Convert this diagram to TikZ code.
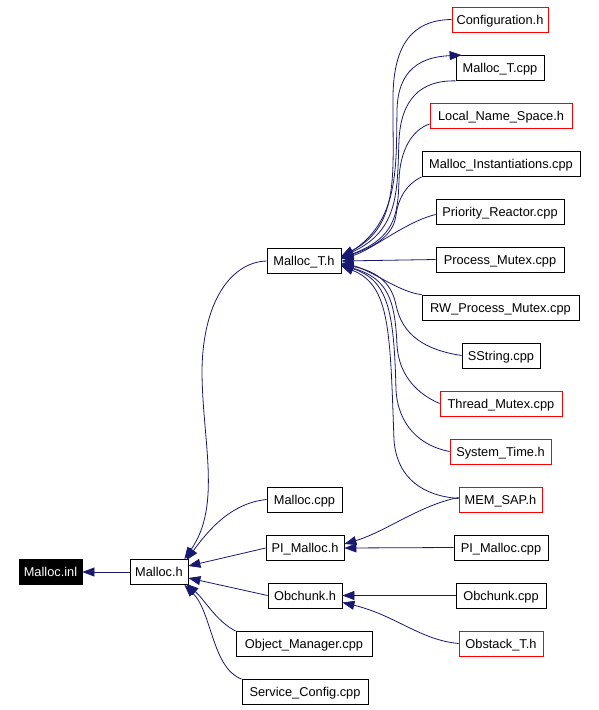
\documentclass[tikz,border=0pt]{standalone}
\usepackage{fontspec}
\setmainfont{Liberation Sans}
\usetikzlibrary{arrows.meta}
\definecolor{edgecol}{RGB}{25,25,112}
\tikzset{
  box/.style={draw=black, fill=white, line width=0.8pt, inner sep=0pt, minimum height=25pt,
    text height=9.2pt, text depth=0pt,
    font=\fontsize{12.8}{14}\selectfont, text=black},
  redbox/.style={box, draw=red},
  blackbox/.style={box, fill=black, text=white},
  edge/.style={draw=edgecol, line width=0.8pt, -{Triangle[length=12pt,width=9pt]}},
}
\begin{document}
\begin{tikzpicture}[x=1pt,y=-1pt]
\useasboundingbox (0,0) rectangle (598,710);
% left nodes
\node[blackbox, minimum width=63pt] (inl) at (50.5,572) {Malloc.inl};
\node[box, minimum width=58pt] (mh) at (159,572) {Malloc.h};
\node[box, minimum width=74pt] (mth) at (304,261) {Malloc\_T.h};
\node[box, minimum width=75pt] (mcpp) at (304.5,499.5) {Malloc.cpp};
\node[box, minimum width=78pt] (pih) at (305,548) {PI\_Malloc.h};
\node[box, minimum width=74pt] (obh) at (305,595.5) {Obchunk.h};
\node[box, minimum width=136pt] (om) at (304,644) {Object\_Manager.cpp};
\node[box, minimum width=126pt] (sc) at (305,692) {Service\_Config.cpp};
% right nodes
\node[redbox, minimum width=96pt] (cfg) at (500,19.5) {Configuration.h};
\node[box, minimum width=88pt] (mtc) at (500,68) {Malloc\_T.cpp};
\node[redbox, minimum width=142pt] (lns) at (501,116) {Local\_Name\_Space.h};
\node[box, minimum width=158pt] (mi) at (501,164) {Malloc\_Instantiations.cpp};
\node[box, minimum width=128pt] (pr) at (500,211.5) {Priority\_Reactor.cpp};
\node[box, minimum width=128pt] (pm) at (500,259.5) {Process\_Mutex.cpp};
\node[box, minimum width=157pt] (rw) at (500.5,307.5) {RW\_Process\_Mutex.cpp};
\node[box, minimum width=78pt] (ss) at (501,355.5) {SString.cpp};
\node[redbox, minimum width=122pt] (tm) at (501,403.5) {Thread\_Mutex.cpp};
\node[redbox, minimum width=101pt] (st) at (500.5,451.5) {System\_Time.h};
\node[redbox, minimum width=83pt] (ms) at (500.5,499.5) {MEM\_SAP.h};
\node[box, minimum width=94pt] (pic) at (501,547.5) {PI\_Malloc.cpp};
\node[box, minimum width=90pt] (obc) at (501,595.5) {Obchunk.cpp};
\node[redbox, minimum width=84pt] (ost) at (501,643.5) {Obstack\_T.h};
% edges into Malloc_T.h
\draw[edge] (cfg.west) .. controls (412,20) and (394,45) .. (393,95)
  .. controls (392,170) and (402,225) .. ([yshift=5pt]mth.east);
\draw[edge] ([yshift=4pt]mth.east) .. controls (400,228) and (396,170) .. (397,110)
  .. controls (398,70) and (420,57) .. ([xshift=6pt]mtc.north west);
\draw[edge] (mtc.south west) .. controls (420,80) and (401,100) .. (399,140)
  .. controls (397,190) and (400,230) .. ([yshift=4pt]mth.east);
\draw[edge] ([yshift=-8pt]lns.west) .. controls (412,130) and (400,150) .. (399,180)
  .. controls (398,215) and (395,238) .. ([yshift=3pt]mth.east);
\draw[edge] (mi.south west) .. controls (405,185) and (398,200) .. (396,215)
  .. controls (394,232) and (380,245) .. ([yshift=3pt]mth.east);
\draw[edge] ([yshift=-3pt]pr.west) .. controls (405,222) and (372,250) .. ([yshift=2pt]mth.east);
\draw[edge] (pm.west) -- (mth.east);
\draw[edge] (rw.north west) .. controls (398,292) and (372,270) .. ([yshift=-2pt]mth.east);
\draw[edge] (ss.west) .. controls (425,350) and (402,335) .. (396,305)
  .. controls (392,285) and (380,272) .. ([yshift=-3pt]mth.east);
\draw[edge] (tm.west) .. controls (420,395) and (399,378) .. (397,345)
  .. controls (395,300) and (388,278) .. ([yshift=-4pt]mth.east);
\draw[edge] (st.west) .. controls (420,446) and (398,425) .. (396,390)
  .. controls (394,310) and (388,280) .. ([yshift=-4pt]mth.east);
\draw[edge] ([yshift=1pt]ms.west) .. controls (425,496) and (397,480) .. (394,440)
  .. controls (390,330) and (390,285) .. ([yshift=-5pt]mth.east);
% edges into Malloc.h
\draw[edge] (mth.west) .. controls (232,262) and (203,300) .. (202,370)
  .. controls (202,440) and (222,505) .. ([xshift=-4pt]mh.north east);
\draw[edge] (mcpp.west) .. controls (232,503) and (210,528) .. ([xshift=-2pt,yshift=-1pt]mh.north east);
\draw[edge] (pih.west) -- ([yshift=6pt]mh.east);
\draw[edge] (obh.west) -- ([yshift=-6pt]mh.east);
\draw[edge] (om.north west) .. controls (215,620) and (205,600) .. ([xshift=-2pt,yshift=1pt]mh.south east);
\draw[edge] (sc.north west) .. controls (212,668) and (212,612) .. ([xshift=-4pt]mh.south east);
% Malloc.h -> Malloc.inl
\draw[edge] (mh.west) -- (inl.east);
% into PI_Malloc.h
\draw[edge] ([yshift=2pt]ms.west) .. controls (420,505) and (385,532) .. ([yshift=4pt]pih.east);
\draw[edge] (pic.west) -- (pih.east);
% into Obchunk.h
\draw[edge] (obc.west) -- (obh.east);
\draw[edge] (ost.west) .. controls (420,640) and (395,615) .. ([yshift=-7pt]obh.east);
\end{tikzpicture}
\end{document}
